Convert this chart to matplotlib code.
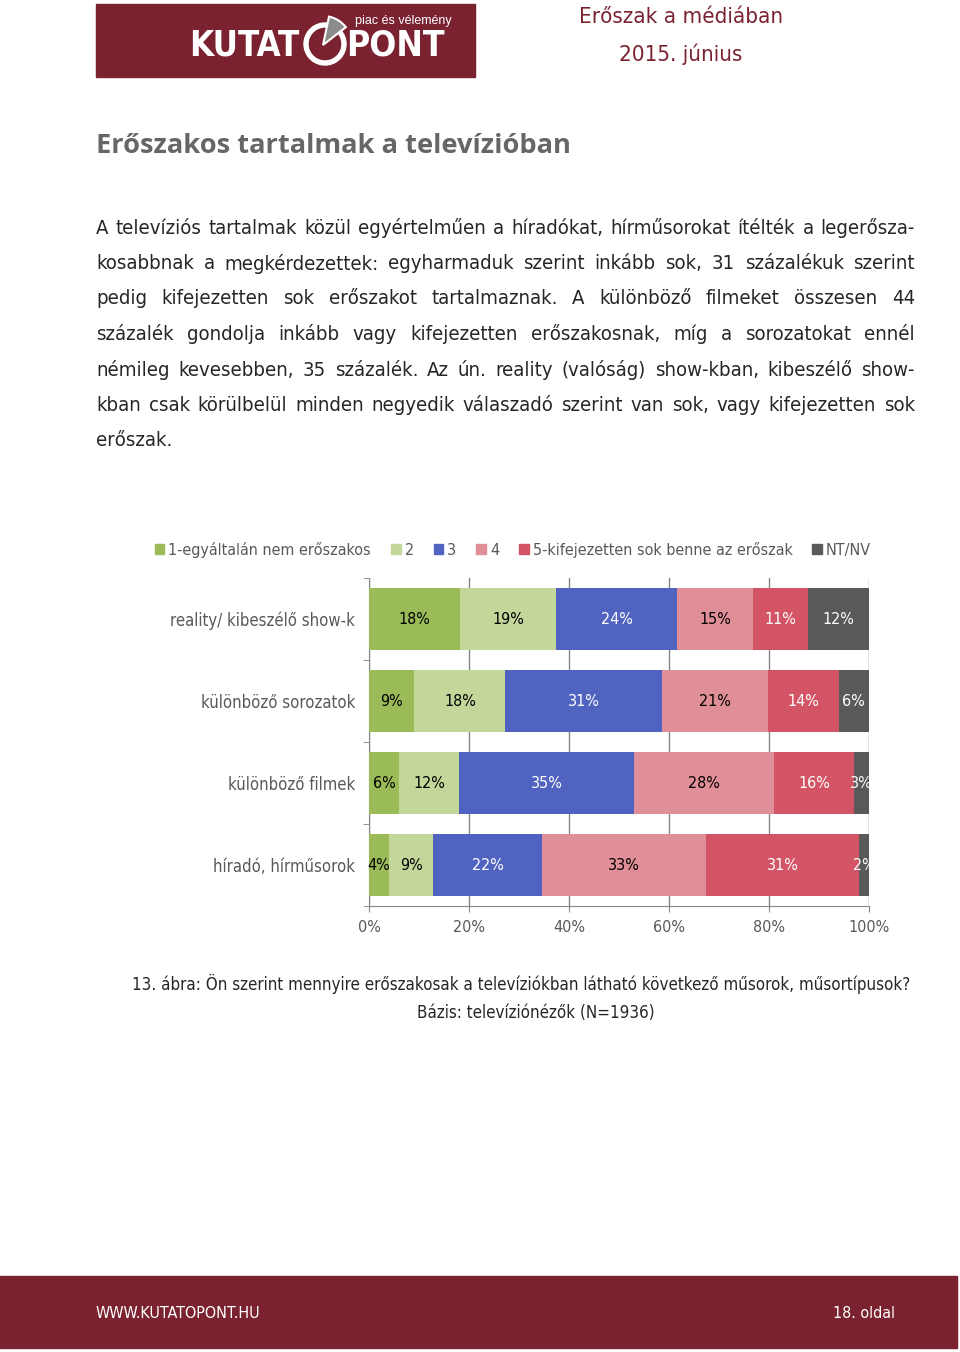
import numpy as np
import matplotlib
matplotlib.use("Agg")
import matplotlib.pyplot as plt
from matplotlib import font_manager as fm
from matplotlib.patches import Rectangle, Wedge, Patch

W, H = 960, 1352
MAROON = "#7A2230"
GRAY_TXT = "#595959"

# --- data -------------------------------------------------------------
categories = ["reality/ kibeszélő show-k", "különböző sorozatok",
              "különböző filmek", "híradó, hírműsorok"]
series = ["1-egyáltalán nem erőszakos", "2", "3", "4",
          "5-kifejezetten sok benne az erőszak", "NT/NV"]
reality = [18, 19, 24, 15, 11, 12]
sorozatok = [9, 18, 31, 21, 14, 6]
filmek = [6, 12, 35, 28, 16, 3]
hirado = [4, 9, 22, 33, 31, 2]
xticks = [0, 20, 40, 60, 80, 100]

colors = ["#9BBB59", "#C4D79B", "#5063C0", "#E08E98", "#D35565", "#595959"]
label_colors = ["black", "black", "white", "black", "white", "white"]

body_lines = [
    "A televíziós tartalmak közül egyértelműen a híradókat, hírműsorokat ítélték a legerősza-",
    "kosabbnak a megkérdezettek: egyharmaduk szerint inkább sok, 31 százalékuk szerint",
    "pedig kifejezetten sok erőszakot tartalmaznak. A különböző filmeket összesen 44",
    "százalék gondolja inkább vagy kifejezetten erőszakosnak, míg a sorozatokat ennél",
    "némileg kevesebben, 35 százalék. Az ún. reality (valóság) show-kban, kibeszélő show-",
    "kban csak körülbelül minden negyedik válaszadó szerint van sok, vagy kifejezetten sok",
    "erőszak.",
]

COND = dict(family="DejaVu Sans", stretch="condensed")


def cond_fp(size, weight="normal"):
    return fm.FontProperties(family="DejaVu Sans", stretch="condensed",
                             size=size, weight=weight)


fig = plt.figure(figsize=(W / 100, H / 100), dpi=100)
fig.patch.set_facecolor("white")

# page layer in pixel coordinates (y grows downward)
bg = fig.add_axes([0, 0, 1, 1])
bg.set_xlim(0, W); bg.set_ylim(H, 0); bg.axis("off")

# logo
bg.add_patch(Rectangle((96, 4), 379, 73, color=MAROON, zorder=1))
bg.text(189, 46, "KUTAT", color="white", fontproperties=cond_fp(25, "bold"),
        va="center", ha="left", zorder=3)
bg.text(346, 46, "PONT", color="white", fontproperties=cond_fp(25.5, "bold"),
        va="center", ha="left", zorder=3)
bg.add_patch(Wedge((325, 44), 21, -40, 280, width=4, color="white", zorder=3))
bg.add_patch(Wedge((323, 45), 29, -78, -38, facecolor="#8C8C8C", edgecolor="white",
                   lw=1.5, zorder=4))
bg.text(355, 21, "piac és vélemény", color="white", fontsize=9, family="Liberation Sans",
        va="center", ha="left", zorder=3)

# header right
bg.text(681, 17, "Erőszak a médiában", color=MAROON, fontsize=16, ha="center",
        va="center", **COND)
bg.text(681, 54, "2015. június", color=MAROON, fontsize=16, ha="center",
        va="center", **COND)

# section title
bg.text(96, 146, "Erőszakos tartalmak a televízióban", color="#666666", fontsize=19.6,
        fontweight="bold", family="Open Sans", va="center", ha="left")

# justified body text
renderer = fig.canvas.get_renderer()


def justify(line, y, x0=96, x1=915, last=False, size=14.6):
    words = line.split(" ")
    texts = [bg.text(0, y, w, color="#262626", fontsize=size, va="center",
                     ha="left", **COND) for w in words]
    widths = [t.get_window_extent(renderer).width for t in texts]
    if last or len(words) == 1:
        gap = size * 0.45
    else:
        gap = (x1 - x0 - sum(widths)) / (len(words) - 1)
    x = x0
    for t, w in zip(texts, widths):
        t.set_x(x)
        x += w + gap


for i, line in enumerate(body_lines):
    justify(line, 228 + i * 35.5, last=(i == len(body_lines) - 1))

# caption
bg.text(521, 984, "13. ábra: Ön szerint mennyire erőszakosak a televíziókban látható "
        "következő műsorok, műsortípusok?", color="#262626", fontsize=12.2,
        ha="center", va="center", **COND)
bg.text(536, 1013, "Bázis: televíziónézők (N=1936)", color="#262626", fontsize=12.2,
        ha="center", va="center", **COND)

# footer
bg.add_patch(Rectangle((0, 1276), 957, 72, color=MAROON, zorder=1))
bg.text(96, 1314, "WWW.KUTATOPONT.HU", color="white", fontsize=11.5, ha="left",
        va="center", zorder=3, **COND)
bg.text(895, 1314, "18. oldal", color="white", fontsize=11.5, ha="right",
        va="center", zorder=3, **COND)

# --- chart ------------------------------------------------------------
ax = fig.add_axes([369 / W, 1 - 906 / H, 500 / W, 328 / H])
rows = np.array([reality, sorozatok, filmek, hirado], dtype=float)
pct = rows / rows.sum(axis=1, keepdims=True) * 100
ypos = np.arange(len(categories))
left = np.zeros(len(categories))
for j, name in enumerate(series):
    ax.barh(ypos, pct[:, j], left=left, height=0.756, color=colors[j],
            label=name, zorder=3)
    for i in range(len(categories)):
        ax.text(left[i] + pct[i, j] / 2, ypos[i], f"{int(rows[i, j])}%",
                color=label_colors[j], ha="center", va="center",
                fontproperties=cond_fp(11.5), zorder=4, clip_on=False)
    left += pct[:, j]

ax.set_xlim(0, 100)
ax.set_ylim(len(categories) - 0.5, -0.5)
ax.set_xticks(xticks)
ax.set_xticklabels([f"{t}%" for t in xticks], color=GRAY_TXT,
                   fontproperties=cond_fp(11.5))
ax.set_yticks(ypos)
ax.set_yticklabels(categories, color=GRAY_TXT, fontproperties=cond_fp(12))
ax.set_yticks(np.arange(len(categories) + 1) - 0.5, minor=True)
ax.tick_params(axis="y", which="major", length=0, pad=10)
ax.tick_params(axis="y", which="minor", length=4, color="#868686")
ax.tick_params(axis="x", length=4, color="#868686", pad=6)
ax.grid(axis="x", color="#868686", lw=1, zorder=0)
for s in ["top", "right"]:
    ax.spines[s].set_visible(False)
for s in ["left", "bottom"]:
    ax.spines[s].set_color("#868686")

handles = [Patch(color=c) for c in colors]
fig.legend(handles, series, loc="center", bbox_to_anchor=(513 / W, 1 - 550 / H),
           ncol=6, frameon=False, handlelength=0.6, handleheight=0.6,
           handletextpad=0.25, columnspacing=1.25,
           prop=cond_fp(11.5), labelcolor=GRAY_TXT)

fig.savefig("out.png", dpi=100)
